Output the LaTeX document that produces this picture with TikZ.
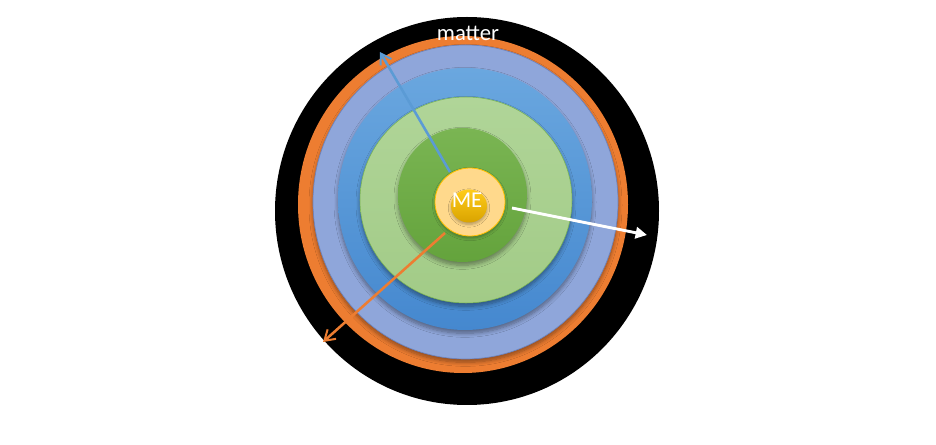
\documentclass[tikz,border=0pt]{standalone}
\usepackage{fontspec}
\setmainfont{Carlito}
\usetikzlibrary{arrows.meta,shadows.blur}
\definecolor{cOrange}{HTML}{ED7D31}
\definecolor{cPeri}{HTML}{8FA6DA}
\definecolor{cPeriEdge}{HTML}{6C83BD}
\definecolor{cBlueTop}{HTML}{6AA7DF}
\definecolor{cBlueBot}{HTML}{4588CF}
\definecolor{cArrowBlue}{HTML}{5B9BD5}
\definecolor{cLGreenTop}{HTML}{B0D598}
\definecolor{cLGreenBot}{HTML}{A2CB87}
\definecolor{cDGreenTop}{HTML}{7AB553}
\definecolor{cDGreenBot}{HTML}{64A33C}
\definecolor{cLYellow}{HTML}{FFD98C}
\definecolor{cGoldTop}{HTML}{FFCC1A}
\definecolor{cGoldBot}{HTML}{D9A300}
\definecolor{cGold}{HTML}{FFC000}
\tikzset{
  ringshadow/.style={blur shadow={shadow xshift=0pt, shadow yshift=-2.5pt, shadow blur steps=8, shadow blur radius=3pt, shadow opacity=40}},
  smallshadow/.style={blur shadow={shadow xshift=0pt, shadow yshift=-1.5pt, shadow blur steps=6, shadow blur radius=2pt, shadow opacity=30}},
  labeltext/.style={text=white, inner sep=0pt, font=\fontsize{17}{20}\selectfont},
  blueArrow/.style={draw=cArrowBlue, line width=1.9pt, -{Straight Barb[length=7.5pt, width=9.5pt, line width=1.5pt]}},
  orangeArrow/.style={draw=cOrange, line width=1.9pt, -{Straight Barb[length=7.5pt, width=9.5pt, line width=1.5pt]}},
  whiteArrow/.style={draw=white, line width=2.2pt, -{Triangle[length=8.5pt, width=8.5pt]}}
}
\begin{document}
\begin{tikzpicture}[x=0.75pt,y=-0.75pt]
\useasboundingbox[fill=white] (0,0) rectangle (936,445);
% rings
\fill[black] (467,211) ellipse [x radius=192, y radius=194];
\fill[cOrange] (463,204.5) ellipse [x radius=165, y radius=168.5];
\path[fill=cPeri, draw=cPeriEdge, line width=0.5pt, ringshadow] (465.5,202) ellipse [x radius=152.5, y radius=157];
\path[top color=cBlueTop, bottom color=cBlueBot, ringshadow] (465,199) ellipse [x radius=127, y radius=131];
\path[top color=cLGreenTop, bottom color=cLGreenBot, draw=cDGreenTop, line width=0.4pt, ringshadow] (466,200) ellipse [x radius=106, y radius=103];
\path[top color=cDGreenTop, bottom color=cDGreenBot, ringshadow] (462.5,195) ellipse [x radius=64.5, y radius=67];
\path[fill=cLYellow, draw=cGold, line width=0.6pt, smallshadow] (470,202) ellipse [x radius=35, y radius=34];
\path[top color=cGoldTop, bottom color=cGoldBot, smallshadow] (469,206) ellipse [x radius=18, y radius=16.5];
% labels
\node[labeltext, anchor=base] (me) at (467,208) {ME};
\node[labeltext, anchor=base] (matter) at (468,40.5) {matter};
% arrow end points
\coordinate (blueStart) at (450,172);
\coordinate (blueEnd) at (380,52);
\coordinate (whiteStart) at (512,208);
\coordinate (whiteEnd) at (647,235);
\coordinate (orangeStart) at (445,233);
\coordinate (orangeEnd) at (323,342);
\draw[blueArrow] (blueStart) -- (blueEnd);
\draw[whiteArrow] (whiteStart) -- (whiteEnd);
\draw[orangeArrow] (orangeStart) -- (orangeEnd);
\end{tikzpicture}
\end{document}
